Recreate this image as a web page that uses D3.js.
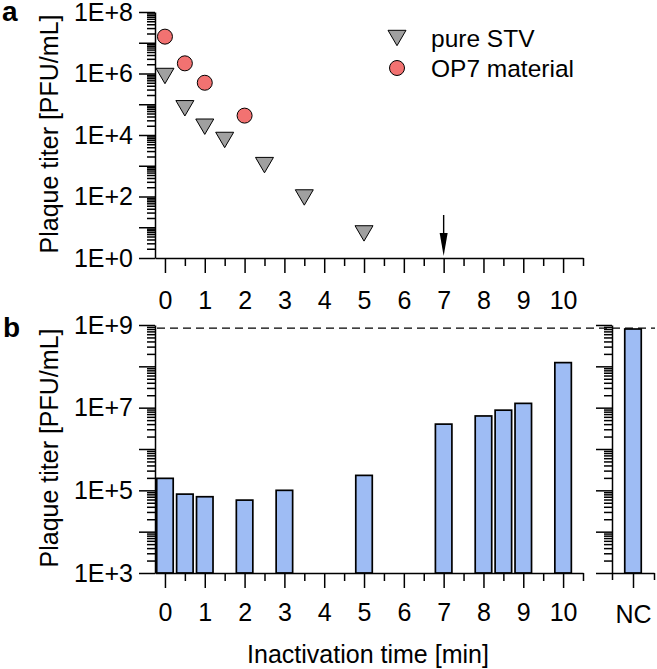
<!DOCTYPE html>
<html>
<head>
<meta charset="utf-8">
<script src="https://cdn.jsdelivr.net/npm/d3@7"></script>
<style>
    body { margin: 0; background: #fff; }
    svg text { font-family: "Liberation Sans", Arial, sans-serif; fill: #000; }
    .axis path, .axis line { stroke: #000; stroke-width: 1.5px; }
</style>
</head>
<body>
<svg id="chart" width="657" height="669"></svg>
<script>
// panel a: inactivation curves
var stvTime = [0, 0.5, 1, 1.5, 2.5, 3.5, 5];
var stvTiter = [8.3e5, 7.4e4, 1.86e4, 6.9e3, 1.05e3, 93, 6.3];
var op7Time = [0, 0.5, 1, 2];
var op7Titer = [1.58e7, 2.14e6, 5.0e5, 4.27e4];
var arrowTime = 7;
var legendLabels = ["pure STV", "OP7 material"];

// panel b: titers after infection
var barTime = [0, 0.5, 1, 2, 3, 5, 7, 8, 8.5, 9, 10];
var barTiter = [1.95e5, 8.1e4, 7.0e4, 5.8e4, 1.0e5, 2.3e5, 4.0e6, 6.3e6, 8.7e6, 1.27e7, 1.23e8];
var ncLabel = "NC";
var ncTiter = 8.0e8;
var ncLimit = 8.4e8;

var timeTicks = [0, 1, 2, 3, 4, 5, 6, 7, 8, 9, 10];
var halfTicks = [0.5, 1.5, 2.5, 3.5, 4.5, 5.5, 6.5, 7.5, 8.5, 9.5, 10.5];
var labelsA = [1, 1e2, 1e4, 1e6, 1e8];
var labelsB = [1e3, 1e5, 1e7, 1e9];

var yTitle = "Plaque titer [PFU/mL]";
var xTitle = "Inactivation time [min]";

var fontSize = "25px";

var svg = d3.select("#chart");

var x = d3.scaleLinear().domain([-0.25, 10.5]).range([155, 583]);
var yA = d3.scaleLog().domain([1, 1e8]).range([258, 12]);
var yB = d3.scaleLog().domain([1e3, 1e9]).range([573, 325]);
var xNC = d3.scaleLinear().domain([-0.5, 0.5]).range([612, 654]);

function expFormat(labels) {
    return function(d) {
        if (labels.indexOf(d) < 0) return "";
        return "1E+" + Math.round(Math.log10(d));
    };
}

function isDecade(d) {
    return Math.abs(Math.log10(d) - Math.round(Math.log10(d))) < 1e-9;
}

// log y axis: short minor ticks, long decade ticks with labels
function drawLogAxis(g, y, labels, showLabels) {
    var all = y.ticks();
    g.append("g").attr("class", "axis")
        .call(d3.axisLeft(y).tickValues(all.filter(function(d) { return !isDecade(d); }))
            .tickSize(8).tickSizeOuter(0).tickFormat(""))
        .call(function(a) { a.select(".domain").remove(); });
    g.append("g").attr("class", "axis")
        .call(d3.axisLeft(y).tickValues(all.filter(isDecade))
            .tickSize(16).tickSizeOuter(0).tickPadding(6)
            .tickFormat(showLabels ? expFormat(labels) : ""))
        .selectAll("text").style("font-size", fontSize);
}

function drawTimeAxis(g, yPos, pad) {
    var ax = g.append("g").attr("transform", "translate(0," + yPos + ")");
    ax.append("g").attr("class", "axis")
        .call(d3.axisBottom(x).tickValues(halfTicks).tickSize(8).tickSizeOuter(0).tickFormat(""))
        .call(function(a) { a.select(".domain").remove(); });
    ax.append("g").attr("class", "axis")
        .call(d3.axisBottom(x).tickValues(timeTicks).tickSize(15).tickSizeOuter(0).tickPadding(pad))
        .selectAll("text").style("font-size", fontSize);
}

// ---------- panel a ----------
var gA = svg.append("g");
drawTimeAxis(gA, 258, 18);
gA.append("g").attr("transform", "translate(155,0)").call(function(g) { drawLogAxis(g, yA, labelsA, true); });

var downTriangle = {
    draw: function(ctx, size) {
        var w = 9, h = 7.7;
        ctx.moveTo(-w, -h);
        ctx.lineTo(w, -h);
        ctx.lineTo(0, h);
        ctx.closePath();
    }
};

var stv = stvTime.map(function(t, i) { return {t: t, v: stvTiter[i]}; });
var op7 = op7Time.map(function(t, i) { return {t: t, v: op7Titer[i]}; });

gA.append("g").selectAll("circle")
    .data(op7)
    .enter()
    .append("circle")
    .attr("cx", function(d) { return x(d.t); })
    .attr("cy", function(d) { return yA(d.v); })
    .attr("r", 7.5)
    .attr("fill", "#f27271")
    .attr("stroke", "#000")
    .attr("stroke-width", 1);

gA.append("g").selectAll("path")
    .data(stv)
    .enter()
    .append("path")
    .attr("d", d3.symbol().type(downTriangle))
    .attr("transform", function(d) { return "translate(" + x(d.t) + "," + yA(d.v) + ")"; })
    .attr("fill", "#a0a0a0")
    .attr("stroke", "#000")
    .attr("stroke-width", 1);

// arrow at 7 min
var ax7 = x(arrowTime);
gA.append("line")
    .attr("x1", ax7).attr("x2", ax7)
    .attr("y1", 215).attr("y2", 236)
    .attr("stroke", "#000")
    .attr("stroke-width", 1.4);
gA.append("path")
    .attr("d", "M" + (ax7 - 4) + ",233L" + (ax7 + 4) + ",233L" + ax7 + ",256Z")
    .attr("fill", "#000");

// legend
var legend = gA.append("g").attr("transform", "translate(397,38)");
legend.append("path")
    .attr("d", d3.symbol().type(downTriangle))
    .attr("fill", "#a0a0a0").attr("stroke", "#000");
legend.append("circle")
    .attr("cy", 30).attr("r", 7.5)
    .attr("fill", "#f27271").attr("stroke", "#000");
legend.selectAll("text")
    .data(legendLabels)
    .enter()
    .append("text")
    .attr("x", 34)
    .attr("y", function(d, i) { return i * 30; })
    .attr("dy", "0.35em")
    .style("font-size", "24.5px")
    .text(function(d) { return d; });

gA.append("text")
    .attr("transform", "translate(58,134) rotate(-90)")
    .attr("text-anchor", "middle")
    .style("font-size", fontSize)
    .text(yTitle);

svg.append("text")
    .attr("x", 2).attr("y", 21)
    .style("font-size", "28px").style("font-weight", "bold")
    .text("a");

// ---------- panel b ----------
var gB = svg.append("g");

var bars = barTime.map(function(t, i) { return {t: t, v: barTiter[i]}; });
var bw = 16.5;

gB.append("g").selectAll("rect")
    .data(bars)
    .enter()
    .append("rect")
    .attr("x", function(d) { return x(d.t) - bw / 2; })
    .attr("y", function(d) { return yB(d.v); })
    .attr("width", bw)
    .attr("height", function(d) { return yB.range()[0] - yB(d.v); })
    .attr("fill", "#9ebcf4")
    .attr("stroke", "#000")
    .attr("stroke-width", 1.7);

gB.append("rect")
    .attr("x", xNC(0) - bw / 2)
    .attr("y", yB(ncTiter))
    .attr("width", bw)
    .attr("height", yB.range()[0] - yB(ncTiter))
    .attr("fill", "#9ebcf4")
    .attr("stroke", "#000")
    .attr("stroke-width", 1.7);

drawTimeAxis(gB, 573, 15);
gB.append("g").attr("transform", "translate(155,0)").call(function(g) { drawLogAxis(g, yB, labelsB, true); });

// NC side panel
var ncAxis = gB.append("g").attr("transform", "translate(0,573)");
ncAxis.append("g").attr("class", "axis")
    .call(d3.axisBottom(xNC).tickValues([-0.5, 0.5]).tickSize(7).tickSizeOuter(0).tickFormat(""))
    .call(function(a) { a.select(".domain").remove(); });
ncAxis.append("g").attr("class", "axis")
    .call(d3.axisBottom(xNC).tickValues([0]).tickSize(15).tickSizeOuter(0).tickPadding(17)
        .tickFormat(function() { return ncLabel; }))
    .selectAll("text").style("font-size", fontSize);
gB.append("g").attr("transform", "translate(612,0)").call(function(g) { drawLogAxis(g, yB, labelsB, false); });

// detection line
gB.append("line")
    .attr("x1", 157).attr("x2", 655)
    .attr("y1", yB(ncLimit)).attr("y2", yB(ncLimit))
    .attr("stroke", "#000")
    .attr("stroke-width", 1.3)
    .attr("stroke-dasharray", "8,5");

gB.append("text")
    .attr("transform", "translate(58,448) rotate(-90)")
    .attr("text-anchor", "middle")
    .style("font-size", fontSize)
    .text(yTitle);

svg.append("text")
    .attr("x", 368).attr("y", 663)
    .attr("text-anchor", "middle")
    .style("font-size", fontSize)
    .text(xTitle);

svg.append("text")
    .attr("x", 3).attr("y", 337)
    .style("font-size", "28px").style("font-weight", "bold")
    .text("b");
</script>
</body>
</html>
